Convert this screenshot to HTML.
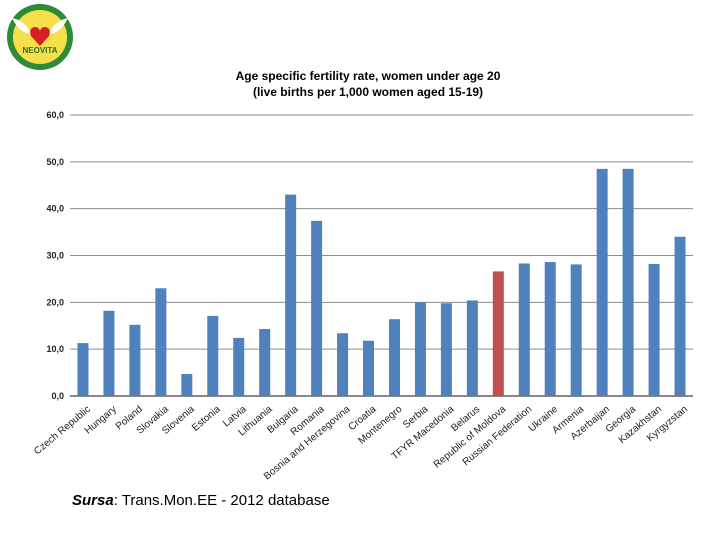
<!DOCTYPE html>
<html><head><meta charset="utf-8"><style>
body{margin:0;background:#fff;}
svg{display:block;font-family:"Liberation Sans",sans-serif;}
</style></head><body>
<svg id="chart" width="720" height="540" viewBox="0 0 720 540">
<g>
<circle cx="40" cy="37" r="33" fill="#2e8b3a"/>
<circle cx="40" cy="37" r="27" fill="#f4e04a"/>
<path d="M12 18 Q24 20 32 34 Q20 34 12 18Z" fill="#fff"/>
<path d="M68 18 Q56 20 48 34 Q60 34 68 18Z" fill="#fff"/>
<path d="M40 46 L31 36 Q28 28 35 27 Q39 27 40 31 Q41 27 45 27 Q52 28 49 36Z" fill="#d62020"/>
<text x="40" y="53" font-size="8" font-weight="bold" text-anchor="middle" fill="#2e6b2a">NEOVITA</text>
</g>
<text x="368" y="80" font-size="12" font-weight="bold" text-anchor="middle">Age specific fertility rate, women under age 20</text>
<text x="368" y="96" font-size="12" font-weight="bold" text-anchor="middle">(live births per 1,000 women aged 15-19)</text>
<g id="grid"></g><g id="bars"></g><g id="xlabels"></g>
<text x="72" y="505" font-size="15"><tspan font-weight="bold" font-style="italic">Sursa</tspan>: Trans.Mon.EE - 2012 database</text>
</svg>
<script>
const categories=["Czech Republic","Hungary","Poland","Slovakia","Slovenia","Estonia","Latvia","Lithuania","Bulgaria","Romania","Bosnia and Herzegovina","Croatia","Montenegro","Serbia","TFYR Macedonia","Belarus","Republic of Moldova","Russian Federation","Ukraine","Armenia","Azerbaijan","Georgia","Kazakhstan","Kyrgyzstan"];
const values=[11.3,18.2,15.2,23.0,4.7,17.1,12.4,14.3,43.0,37.4,13.4,11.8,16.4,20.0,19.8,20.4,26.6,28.3,28.6,28.1,48.5,48.5,28.2,34.0];
const highlight=["Republic of Moldova"];
const yTicks=[0,10,20,30,40,50,60];
const tickLabels=["0,0","10,0","20,0","30,0","40,0","50,0","60,0"];
const NS="http://www.w3.org/2000/svg";
const x0=70,x1=693,y0=396,yTop=115,yMax=60;
const y=v=>y0-(v/yMax)*(y0-yTop);
const band=(x1-x0)/categories.length;
const xc=i=>x0+band*(i+0.5);
const mk=(t,a,p)=>{const e=document.createElementNS(NS,t);for(const k in a)e.setAttribute(k,a[k]);p.appendChild(e);return e;};
const grid=document.getElementById('grid'),bars=document.getElementById('bars'),xl=document.getElementById('xlabels');
yTicks.forEach((v,i)=>{
  const l=mk('line',{x1:x0,x2:x1,y1:y(v),y2:y(v),stroke:v===0?'#888':'#8c8c8c','stroke-width':v===0?2:1},grid);
  
  
  const t=mk('text',{x:x0-6,y:y(v)+3,'font-size':9,'font-weight':'bold','text-anchor':'end',fill:'#222'},grid);
  t.textContent=tickLabels[i];
  
  
});
categories.forEach((c,i)=>{
  const w=11;
  const r=mk('rect',{x:xc(i)-w/2,y:y(values[i]),width:w,height:y0-y(values[i]),fill:highlight.includes(c)?'#c0504d':'#4f81bd'},bars);
  
  
  const tx=xc(i)+8,ty=y0+14;
  const t=mk('text',{x:tx,y:ty,'font-size':10,'text-anchor':'end',fill:'#222',transform:`rotate(-40 ${tx} ${ty})`},xl);
  t.textContent=c;
  
  
});
</script>
</body></html>
